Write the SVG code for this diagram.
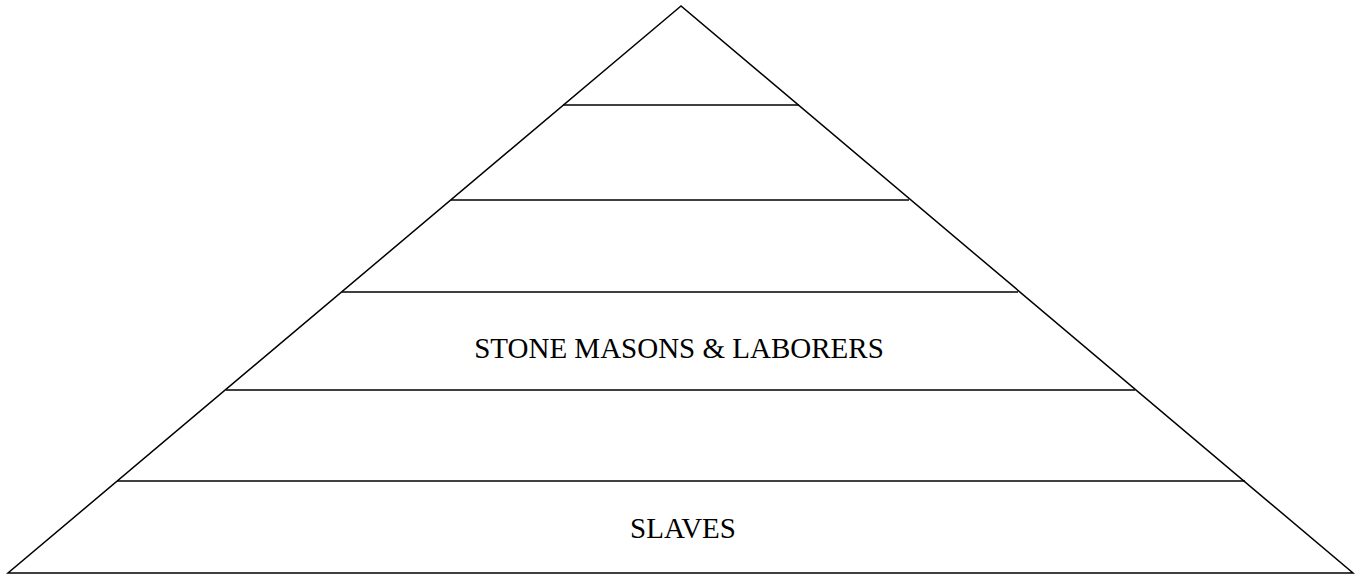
<svg xmlns="http://www.w3.org/2000/svg" width="1360" height="577" viewBox="0 0 1360 577">
<style>
.e{stroke:#000;stroke-width:1.5;fill:none}
.t{font-family:"Liberation Serif","Times New Roman",serif;font-size:29px;fill:#000;text-anchor:middle}
</style>
<rect width="1360" height="577" fill="#fff"/>
<g id="pyramid">
<polygon class="e" points="681,6 8,573 1353,573"/>
</g>
<g id="connectors">
<line class="e" x1="563" y1="105" x2="799" y2="105"/>
<line class="e" x1="451" y1="200" x2="909" y2="200"/>
<line class="e" x1="342" y1="292" x2="1018" y2="292"/>
<line class="e" x1="226" y1="390" x2="1135" y2="390"/>
<line class="e" x1="117" y1="481" x2="1245" y2="481"/>
</g>
<g id="tier4"><text class="t" x="679" y="358">STONE MASONS &amp; LABORERS</text></g>
<g id="tier6"><text class="t" x="683" y="538">SLAVES</text></g>
</svg>
